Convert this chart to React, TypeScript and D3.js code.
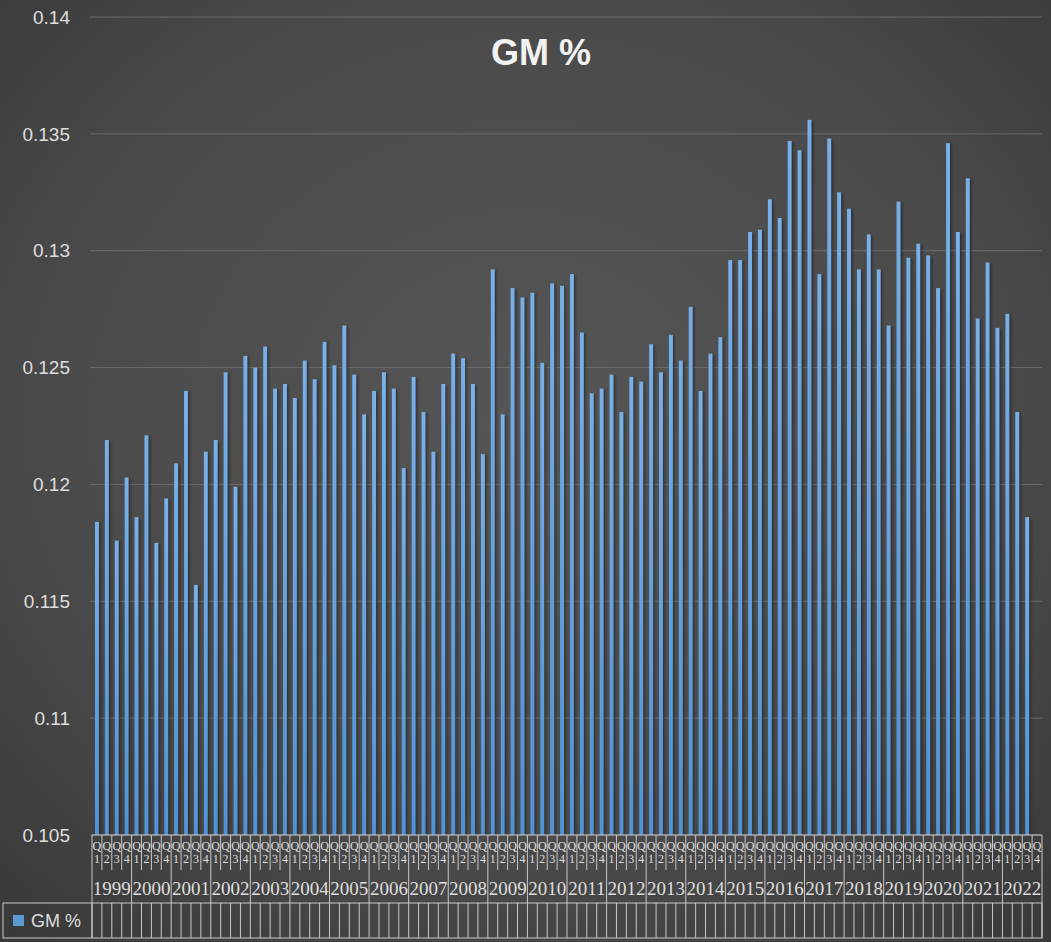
import React from "react";
import * as d3 from "d3";

const years = ["1999","2000","2001","2002","2003","2004","2005","2006","2007","2008","2009","2010","2011","2012","2013","2014","2015","2016","2017","2018","2019","2020","2021","2022"];
const quarters = ["Q1", "Q2", "Q3", "Q4"];
const gmValues: (number | null)[] = [
  0.1184, 0.1219, 0.1176, 0.1203,
  0.1186, 0.1221, 0.1175, 0.1194,
  0.1209, 0.1240, 0.1157, 0.1214,
  0.1219, 0.1248, 0.1199, 0.1255,
  0.1250, 0.1259, 0.1241, 0.1243,
  0.1237, 0.1253, 0.1245, 0.1261,
  0.1251, 0.1268, 0.1247, 0.1230,
  0.1240, 0.1248, 0.1241, 0.1207,
  0.1246, 0.1231, 0.1214, 0.1243,
  0.1256, 0.1254, 0.1243, 0.1213,
  0.1292, 0.1230, 0.1284, 0.1280,
  0.1282, 0.1252, 0.1286, 0.1285,
  0.1290, 0.1265, 0.1239, 0.1241,
  0.1247, 0.1231, 0.1246, 0.1244,
  0.1260, 0.1248, 0.1264, 0.1253,
  0.1276, 0.1240, 0.1256, 0.1263,
  0.1296, 0.1296, 0.1308, 0.1309,
  0.1322, 0.1314, 0.1347, 0.1343,
  0.1356, 0.1290, 0.1348, 0.1325,
  0.1318, 0.1292, 0.1307, 0.1292,
  0.1268, 0.1321, 0.1297, 0.1303,
  0.1298, 0.1284, 0.1346, 0.1308,
  0.1331, 0.1271, 0.1295, 0.1267,
  0.1273, 0.1231, 0.1186, null,
];
const yTicks = [0.105, 0.11, 0.115, 0.12, 0.125, 0.13, 0.135, 0.14];
const seriesName = "GM %";
const chartTitle = "GM %";

const W = 1051;
const H = 942;
const plotLeft = 92;
const plotRight = 1042;
const plotTop = 17;
const plotBottom = 835;

export default function App() {
  const keys = years.flatMap((y) => quarters.map((q) => `${y}-${q}`));
  const data = keys.map((k, i) => ({ key: k, year: k.split("-")[0], q: k.split("-")[1], v: gmValues[i] }));

  const xCell = d3.scaleBand<string>().domain(keys).range([plotLeft, plotRight]).padding(0);
  const xBar = d3.scaleBand<string>().domain(keys).range([plotLeft, plotRight]).paddingInner(0.6).paddingOuter(0.3);
  const xYear = d3.scaleBand<string>().domain(years).range([plotLeft, plotRight]).padding(0);
  const y = d3.scaleLinear().domain([0.105, 0.14]).range([plotBottom, plotTop]);

  const step = xCell.step();
  const tableTop = plotBottom;
  const qRowBottom = 870;
  const yearRowBottom = 903;
  const legendBottom = 938;
  const lineColor = "#c9c9c9";
  const textColor = "#dedede";
  const serif = "'Liberation Serif', 'Times New Roman', serif";
  const sans = "'Liberation Sans', Arial, sans-serif";

  return (
    <svg width={W} height={H} style={{ position: "absolute", left: 0, top: 0 }} xmlns="http://www.w3.org/2000/svg">
      <defs>
        <radialGradient id="bg" cx="50%" cy="45%" r="75%">
          <stop offset="0%" stopColor="#565656" />
          <stop offset="60%" stopColor="#4a4a4a" />
          <stop offset="100%" stopColor="#383838" />
        </radialGradient>
        <linearGradient id="barGrad" x1="0" y1="0" x2="0" y2="1">
          <stop offset="0%" stopColor="#78b0e8" />
          <stop offset="100%" stopColor="#4f92d6" />
        </linearGradient>
        <filter id="shadow" x="-50%" y="-5%" width="300%" height="110%">
          <feGaussianBlur stdDeviation="1.2" />
        </filter>
      </defs>
      <rect x={0} y={0} width={W} height={H} fill="url(#bg)" />

      {/* gridlines */}
      {yTicks.map((t) => (
        <line key={`g${t}`} x1={plotLeft - 2} x2={plotRight} y1={y(t)} y2={y(t)} stroke="#6c6c6c" strokeWidth={1} />
      ))}

      {/* y labels */}
      {yTicks.map((t) => (
        <text key={`yl${t}`} x={70} y={y(t)} dy="0.35em" textAnchor="end" fontFamily={sans} fontSize={19} fill={textColor}>
          {d3.format("")(+t.toFixed(3))}
        </text>
      ))}

      {/* title */}
      <text x={541} y={52} dy="0.35em" textAnchor="middle" fontFamily={sans} fontWeight="bold" fontSize={36} fill="#f2f2f2">
        {chartTitle}
      </text>

      {/* bars shadows */}
      {data.filter((d) => d.v != null).map((d) => (
        <rect key={`s${d.key}`} x={(xBar(d.key) as number) + 1.8} y={y(d.v as number) + 1} width={xBar.bandwidth()} height={plotBottom - y(d.v as number) - 1} fill="#1e1e1e" opacity={0.55} filter="url(#shadow)" />
      ))}
      {/* bars */}
      {data.filter((d) => d.v != null).map((d) => (
        <rect key={`b${d.key}`} x={xBar(d.key)} y={y(d.v as number)} width={xBar.bandwidth()} height={plotBottom - y(d.v as number)} fill="url(#barGrad)" />
      ))}

      {/* data table */}
      <line x1={plotLeft} x2={plotRight} y1={tableTop} y2={tableTop} stroke={lineColor} strokeWidth={1.2} />
      {data.map((d, i) => {
        const x0 = xCell(d.key) as number;
        const isYearStart = i % 4 === 0;
        return (
          <line key={`ql${d.key}`} x1={x0} x2={x0} y1={tableTop} y2={isYearStart ? yearRowBottom : qRowBottom} stroke={lineColor} strokeWidth={1} />
        );
      })}
      <line x1={plotRight} x2={plotRight} y1={tableTop} y2={legendBottom} stroke={lineColor} strokeWidth={1} />
      {data.map((d) => {
        const cx = (xCell(d.key) as number) + step / 2;
        return (
          <text key={`qt${d.key}`} textAnchor="middle" fontFamily={serif} fontSize={12} fill={textColor}>
            <tspan x={cx} y={850}>{d.q.charAt(0)}</tspan>
            <tspan x={cx} y={863}>{d.q.slice(1)}</tspan>
          </text>
        );
      })}
      {years.map((yr) => (
        <text key={`yt${yr}`} x={(xYear(yr) as number) + xYear.bandwidth() / 2} y={888} dy="0.35em" textAnchor="middle" fontFamily={serif} fontSize={19} fill={textColor}>
          {yr}
        </text>
      ))}

      {/* legend row */}
      <rect x={3} y={yearRowBottom} width={plotRight - 3} height={legendBottom - yearRowBottom} fill="none" stroke={lineColor} strokeWidth={1} />
      <line x1={plotLeft} x2={plotLeft} y1={yearRowBottom} y2={legendBottom} stroke={lineColor} strokeWidth={1} />
      {data.map((d) => {
        const x0 = xCell(d.key) as number;
        return <line key={`lc${d.key}`} x1={x0} x2={x0} y1={yearRowBottom} y2={legendBottom} stroke={lineColor} strokeWidth={1} />;
      })}
      <rect x={13} y={915} width={11} height={11} fill="#5b9bd5" />
      <text x={31} y={921} dy="0.35em" fontFamily={sans} fontSize={18} fill={textColor}>
        {seriesName}
      </text>
    </svg>
  );
}
